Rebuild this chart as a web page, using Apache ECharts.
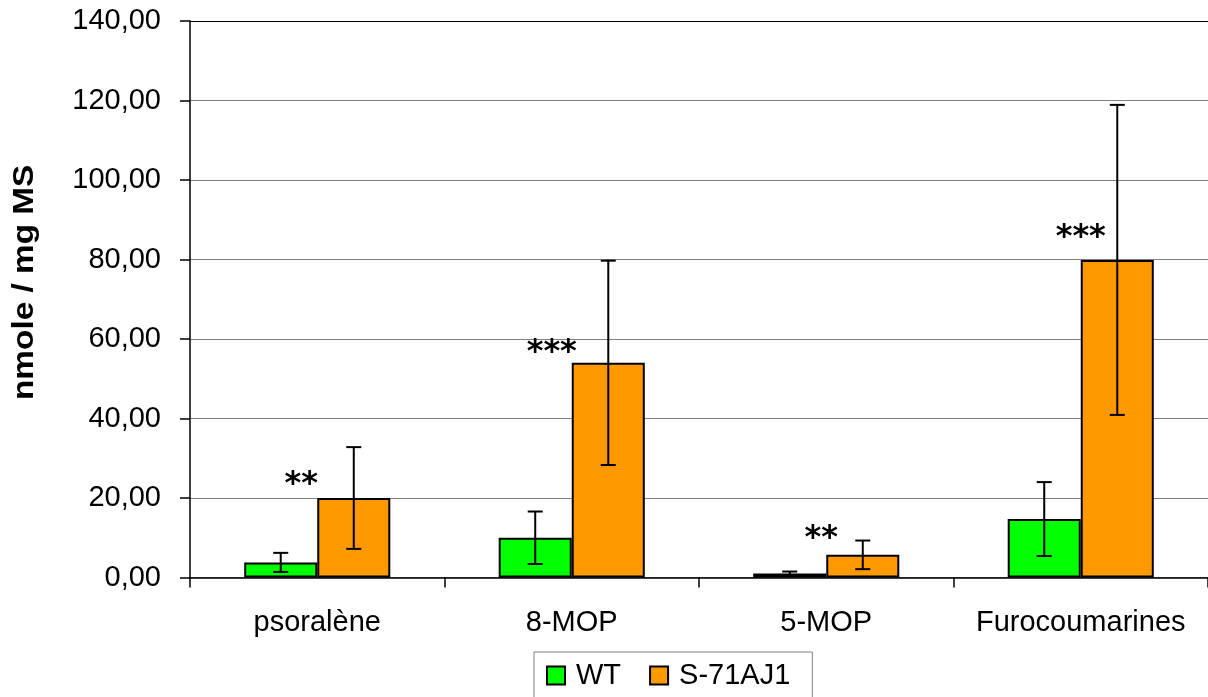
<!DOCTYPE html>
<html>
<head>
<meta charset="utf-8">
<script src="https://cdn.jsdelivr.net/npm/echarts@6/dist/echarts.min.js"></script>
<style>html,body{margin:0;padding:0;background:#fff;}#c{width:1208px;height:697px;}</style>
</head>
<body>
<div id="c"></div>
<script>
var categories = ['psoralène', '8-MOP', '5-MOP', 'Furocoumarines'];
var seriesNames = ['WT', 'S-71AJ1'];
var wtValues = [3.8, 10.0, 1.0, 14.7];
var wtErrors = [2.4, 6.6, 0.5, 9.3];
var sValues = [20.0, 54.0, 5.7, 79.9];
var sErrors = [12.8, 25.7, 3.6, 39.0];
var sigLabels = ['**', '***', '**', '***'];
var yTicks = [0, 20, 40, 60, 80, 100, 120, 140];

var FONT = "'Liberation Sans', Arial, sans-serif";
var BAR_FRAC = 0.287;
var sigPos = [[-16, -13], [-20, -10], [-5, -16], [0, -22]];

function errSeries(values, errors, side) {
  return {
    type: 'custom',
    z: 5,
    silent: true,
    data: values.map(function (v, i) { return [i, v - errors[i], v + errors[i]]; }),
    renderItem: function (params, api) {
      var i = api.value(0);
      var band = api.size([1, 0])[0];
      var off = side * band * BAR_FRAC / 2;
      var lo = api.coord([i, api.value(1)]);
      var hi = api.coord([i, api.value(2)]);
      var x = lo[0] + off;
      var cw = 7.5;
      var st = { stroke: '#000', lineWidth: 2 };
      return {
        type: 'group',
        children: [
          { type: 'line', shape: { x1: x, y1: lo[1], x2: x, y2: hi[1] }, style: st },
          { type: 'line', shape: { x1: x - cw, y1: lo[1], x2: x + cw, y2: lo[1] }, style: st },
          { type: 'line', shape: { x1: x - cw, y1: hi[1], x2: x + cw, y2: hi[1] }, style: st }
        ]
      };
    }
  };
}

var chart = echarts.init(document.getElementById('c'));
var gridColors = yTicks.map(function (t, i) { return i === yTicks.length - 1 ? '#000' : '#808080'; });

chart.setOption({
  animation: false,
  backgroundColor: '#fff',
  textStyle: { fontFamily: FONT },
  grid: { left: 190, right: 0, top: 21, bottom: 119.5, containLabel: false },
  legend: {
    data: seriesNames,
    left: 534,
    top: 652,
    orient: 'horizontal',
    itemWidth: 18,
    itemHeight: 18,
    itemGap: 28,
    padding: [9, 22, 24, 12],
    borderColor: '#808080',
    borderWidth: 1,
    icon: 'rect',
    textStyle: { fontSize: 29, color: '#000', fontFamily: FONT, padding: [0, 0, 0, 6] }
  },
  xAxis: {
    type: 'category',
    data: categories,
    boundaryGap: true,
    axisLine: { lineStyle: { color: '#000', width: 1.5 } },
    axisTick: { show: true, interval: 0, length: 10, inside: false, lineStyle: { color: '#000', width: 1.5 } },
    axisLabel: { interval: 0, fontSize: 29, color: '#000', margin: 31, fontFamily: FONT },
    splitLine: { show: false }
  },
  yAxis: {
    type: 'value',
    min: 0,
    max: 140,
    interval: 20,
    axisLine: { show: true, lineStyle: { color: '#000', width: 1.5 } },
    axisTick: { show: true, length: 10, inside: false, lineStyle: { color: '#000', width: 1.5 } },
    axisLabel: {
      fontSize: 29, color: '#000', margin: 29, fontFamily: FONT,
      formatter: function (v) { return v.toFixed(2).replace('.', ','); }
    },
    splitLine: { show: true, lineStyle: { color: gridColors, width: 1.2 } }
  },
  graphic: [{
    type: 'text',
    x: 10,
    y: 400,
    rotation: Math.PI / 2,
    scaleX: 1.15,
    style: {
      text: 'nmole / mg MS',
      font: 'bold 29px ' + FONT,
      fill: '#000',
      textAlign: 'left',
      textVerticalAlign: 'top'
    }
  }],
  series: [
    {
      name: seriesNames[0],
      type: 'bar',
      barWidth: (BAR_FRAC * 100) + '%',
      barGap: '0%',
      data: wtValues,
      itemStyle: { color: '#00ff00', borderColor: '#000', borderWidth: 2 }
    },
    {
      name: seriesNames[1],
      type: 'bar',
      barWidth: (BAR_FRAC * 100) + '%',
      barGap: '0%',
      data: sValues.map(function (v, i) {
        return {
          value: v,
          label: {
            show: true,
            formatter: sigLabels[i],
            position: sigPos[i],
            align: 'center',
            verticalAlign: 'middle',
            fontSize: 32,
            fontWeight: 'bold',
            color: '#000',
            fontFamily: "'DejaVu Sans', sans-serif"
          }
        };
      }),
      itemStyle: { color: '#ff9900', borderColor: '#000', borderWidth: 2 }
    },
    errSeries(wtValues, wtErrors, -1),
    errSeries(sValues, sErrors, 1)
  ]
});
</script>
</body>
</html>
